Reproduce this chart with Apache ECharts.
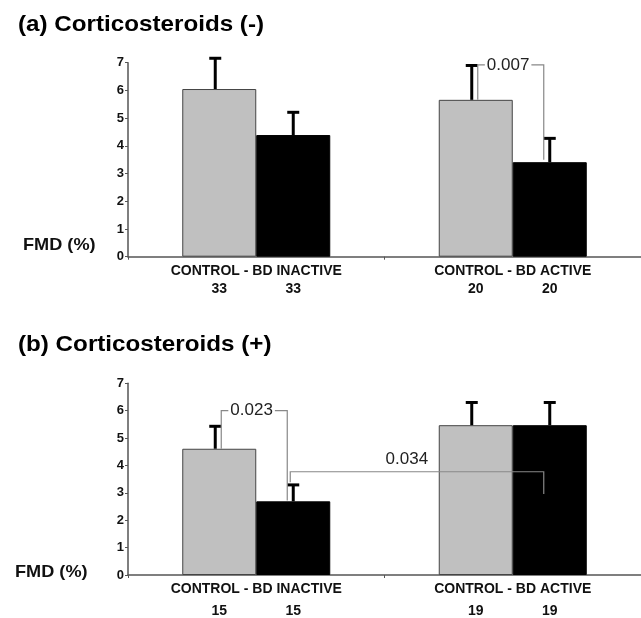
<!DOCTYPE html>
<html><head><meta charset="utf-8">
<script src="https://cdn.jsdelivr.net/npm/echarts@6/dist/echarts.min.js"></script>
<style>html,body{margin:0;padding:0;background:#fff}#c{width:641px;height:618px}</style>
</head><body><div id="c"></div>
<script>
// ---------- data ----------
const groups = ['CONTROL - BD INACTIVE', 'CONTROL - BD ACTIVE'];
const yTicks = [0, 1, 2, 3, 4, 5, 6, 7];
// (a) Corticosteroids (-)
const controlMeanA = [6.05, 5.66];
const controlErrA = [1.11, 1.24];
const bdMeanA = [4.39, 3.41];
const bdErrA = [0.82, 0.86];
const controlNA = [33, 20];
const bdNA = [33, 20];
// (b) Corticosteroids (+)
const controlMeanB = [4.61, 5.47];
const controlErrB = [0.82, 0.83];
const bdMeanB = [2.69, 5.47];
const bdErrB = [0.60, 0.83];
const controlNB = [15, 19];
const bdNB = [15, 19];
// significance brackets: [fromGroup, fromSeries(0 control,1 BD), fromY, topY, toGroup, toSeries, toY]
const bracketsA = [[1, 0, 5.66, 6.92, 1, 1, 3.50]];
const bracketLabelsA = ['0.007'];
const bracketsB = [[0, 0, 4.61, 6.00, 0, 1, 2.72], [0, 1, 3.39, 3.77, 1, 1, 2.96]];
const bracketLabelsB = ['0.023', '0.034'];

// ---------- style ----------
const FF = '"Liberation Sans", Arial, Helvetica, sans-serif';
const BAR_W = 74;
const AXIS_C = '#555';

function xAxisCfg(gi, ctrlN, bdN, margin, lh) {
  return {
    type: 'category', gridIndex: gi, data: groups,
    axisLine: { lineStyle: { color: AXIS_C, width: 1.5 } },
    axisTick: { show: true, length: 3, lineStyle: { color: AXIS_C } },
    axisLabel: {
      margin: margin, interval: 0,
      formatter: (v, i) => '{c|' + v + '}\n{n|' + ctrlN[i] + '}{g|}{n|' + bdN[i] + '}',
      rich: {
        c: { fontFamily: FF, fontWeight: 'bold', fontSize: 14, color: '#111', lineHeight: lh },
        n: { fontFamily: FF, fontWeight: 'bold', fontSize: 14, color: '#111', width: 30, align: 'center', lineHeight: lh },
        g: { width: 44, lineHeight: lh }
      }
    }
  };
}
function yAxisCfg(gi) {
  return {
    type: 'value', gridIndex: gi, min: 0, max: 7, interval: 1,
    axisLine: { show: true, lineStyle: { color: AXIS_C, width: 1.5 } },
    axisTick: { show: true, length: 3, lineStyle: { color: AXIS_C } },
    splitLine: { show: false },
    axisLabel: { margin: 4, fontFamily: FF, fontWeight: 'bold', fontSize: 13, color: '#111',
      formatter: v => String(yTicks[Math.round(v)]) }
  };
}
function barSeries(gi, data, isCtrl) {
  return {
    type: 'bar', xAxisIndex: gi, yAxisIndex: gi, data: data, barWidth: BAR_W, barGap: '0%',
    itemStyle: isCtrl ? { color: '#c0c0c0', borderColor: '#444', borderWidth: 1 }
                      : { color: '#000', borderColor: '#000', borderWidth: 1 },
    silent: true, z: 2
  };
}
function errorSeries(gi, means, errs, side) {
  return {
    type: 'custom', xAxisIndex: gi, yAxisIndex: gi, z: 5, silent: true, clip: false,
    encode: { x: 0, y: 1 },
    data: means.map((m, i) => [i, m, m + errs[i]]),
    renderItem(params, api) {
      const c = api.value(0);
      const p0 = api.coord([c, api.value(1)]);
      const p1 = api.coord([c, api.value(2)]);
      const x = p0[0] + (side === 0 ? -BAR_W / 2 - 4 : BAR_W / 2);
      return { type: 'group', children: [
        { type: 'line', shape: { x1: x, y1: p0[1], x2: x, y2: p1[1] }, style: { stroke: '#000', lineWidth: 3 } },
        { type: 'line', shape: { x1: x - 6, y1: p1[1], x2: x + 6, y2: p1[1] }, style: { stroke: '#000', lineWidth: 3 } }
      ] };
    }
  };
}
function bracketSeries(gi, brackets, labels) {
  return {
    type: 'custom', xAxisIndex: gi, yAxisIndex: gi, z: 6, silent: true, clip: false,
    encode: { x: 0, y: 2 },
    data: brackets,
    renderItem(params, api) {
      const g1 = api.value(0), s1 = api.value(1), y1 = api.value(2), yt = api.value(3);
      const g2 = api.value(4), s2 = api.value(5), y2 = api.value(6);
      const cx = (g, s) => api.coord([g, 0])[0] + (s === 0 ? -BAR_W / 2 : BAR_W / 2);
      const xa = cx(g1, s1) + (s1 === 0 ? 2 : -3);
      const xb = cx(g2, s2) - 6;
      const pa = api.coord([g1, y1])[1], pt = api.coord([g1, yt])[1], pb = api.coord([g2, y2])[1];
      const inline = g1 === g2;
      const tx = xa + (xb - xa) * 0.46;
      const label = labels[params.dataIndex];
      return { type: 'group', children: [
        { type: 'polyline', shape: { points: [[xa, pa], [xa, pt], [xb, pt], [xb, pb]] },
          style: { stroke: '#888', lineWidth: 1.2, fill: null } },
        { type: 'text', x: tx, y: inline ? pt : pt - 12, z2: 10,
          style: { text: label, fill: '#222', font: '17px ' + FF, align: 'center', verticalAlign: 'middle',
            backgroundColor: inline ? '#fff' : null, padding: [0, 2] } }
      ] };
    }
  };
}

const chart = echarts.init(document.getElementById('c'), null, { renderer: 'canvas' });
chart.setOption({
  animation: false,
  backgroundColor: '#fff',
  grid: [
    { left: 128, top: 62.7, width: 517, height: 194 },
    { left: 128, top: 383.3, width: 517, height: 193.4 }
  ],
  xAxis: [xAxisCfg(0, controlNA, bdNA, 5, 18.5), xAxisCfg(1, controlNB, bdNB, 3, 22)],
  yAxis: [yAxisCfg(0), yAxisCfg(1)],
  graphic: [
    { type: 'text', x: 18, y: 24.5, scaleX: 1.1, style: { text: '(a) Corticosteroids (-)', font: 'bold 22px ' + FF, fill: '#000', verticalAlign: 'middle' } },
    { type: 'text', x: 18, y: 344.5, scaleX: 1.1, style: { text: '(b) Corticosteroids (+)', font: 'bold 22px ' + FF, fill: '#000', verticalAlign: 'middle' } },
    { type: 'text', x: 23, y: 245, scaleX: 1.1, style: { text: 'FMD (%)', font: 'bold 16.5px ' + FF, fill: '#111', verticalAlign: 'middle' } },
    { type: 'text', x: 15, y: 572, scaleX: 1.1, style: { text: 'FMD (%)', font: 'bold 16.5px ' + FF, fill: '#111', verticalAlign: 'middle' } }
  ],
  series: [
    barSeries(0, controlMeanA, true), barSeries(0, bdMeanA, false),
    errorSeries(0, controlMeanA, controlErrA, 0), errorSeries(0, bdMeanA, bdErrA, 1),
    bracketSeries(0, bracketsA, bracketLabelsA),
    barSeries(1, controlMeanB, true), barSeries(1, bdMeanB, false),
    errorSeries(1, controlMeanB, controlErrB, 0), errorSeries(1, bdMeanB, bdErrB, 1),
    bracketSeries(1, bracketsB, bracketLabelsB)
  ]
});
</script></body></html>
